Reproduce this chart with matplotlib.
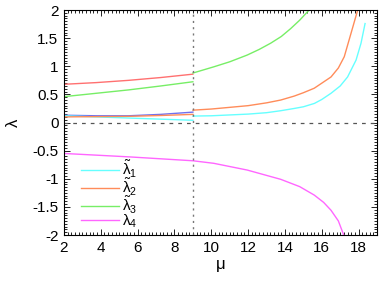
import matplotlib
matplotlib.use('Agg')
import matplotlib.pyplot as plt
from matplotlib.ticker import MultipleLocator

plt.rcParams['font.family'] = ['Liberation Sans', 'DejaVu Sans']
plt.rcParams['mathtext.fontset'] = 'custom'
plt.rcParams['mathtext.rm'] = 'Liberation Sans'
plt.rcParams['mathtext.it'] = 'Liberation Sans'

# left branches (mu < 9)
mu_left = [2, 3.75, 5.5, 7.25, 9]
cyan_left = [0.12, 0.10, 0.08, 0.06, 0.04]
orange_left = [0.10, 0.105, 0.11, 0.125, 0.145]
blue_left = [0.13, 0.12, 0.12, 0.145, 0.185]
green_left = [0.46, 0.52, 0.58, 0.65, 0.725]
red_left = [0.68, 0.71, 0.75, 0.80, 0.86]

# right branches (mu > 9)
mu_cyan = [9, 10, 11, 12, 13, 13.77, 14.5, 15.0, 15.6, 16.0, 16.5, 17.0, 17.4, 17.86, 18.13, 18.35]
cyan_right = [0.115, 0.12, 0.135, 0.15, 0.175, 0.21, 0.25, 0.28, 0.34, 0.41, 0.52, 0.65, 0.81, 1.11, 1.41, 1.76]
mu_orange = [9, 10, 11, 12, 13, 13.77, 14.5, 15.0, 15.59, 16.0, 16.5, 16.9, 17.22, 17.59, 17.95]
orange_right = [0.22, 0.24, 0.27, 0.30, 0.35, 0.40, 0.47, 0.53, 0.61, 0.70, 0.81, 0.97, 1.17, 1.59, 2.0]
mu_green = [9, 10.13, 11, 11.95, 12.6, 13.22, 13.8, 14.31, 14.8, 15.31]
green_right = [0.88, 0.99, 1.08, 1.2, 1.3, 1.41, 1.53, 1.67, 1.82, 2.0]

mu_mag = [2, 5.5, 9, 10.13, 11.95, 13.77, 14.8, 15.59, 16.1, 16.5, 16.9, 17.19]
mag = [-0.55, -0.61, -0.68, -0.725, -0.845, -1.01, -1.14, -1.29, -1.42, -1.56, -1.75, -2.0]

c_cyan = '#66ffff'
c_orange = '#ff8c5a'
c_green = '#77ee66'
c_mag = '#ff66ff'
c_red = '#ff7070'
c_blue = '#7070ee'

fig = plt.figure(figsize=(3.82, 2.81), dpi=100)
ax = fig.add_axes([0.1675, 0.1637, 0.8195, 0.8005])

lw = 1.0
ax.plot(mu_left, red_left, color=c_red, lw=lw)
ax.plot(mu_left, blue_left, color=c_blue, lw=lw)
ax.plot(mu_left, cyan_left, color=c_cyan, lw=lw)
ax.plot(mu_left, orange_left, color=c_orange, lw=lw)
ax.plot(mu_left, green_left, color=c_green, lw=lw)

ax.plot(mu_cyan, cyan_right, color=c_cyan, lw=lw, label=r'$\tilde{\lambda}_1$')
ax.plot(mu_orange, orange_right, color=c_orange, lw=lw, label=r'$\tilde{\lambda}_2$')
ax.plot(mu_green, green_right, color=c_green, lw=lw, label=r'$\tilde{\lambda}_3$')
ax.plot(mu_mag, mag, color=c_mag, lw=lw, label=r'$\lambda_4$')

ax.axhline(0, color='#555555', lw=0.9, ls=(0, (3, 4)))
ax.axvline(9, color='#777777', lw=1.0, ls=(0, (1.5, 3)))

ax.set_xlim(2, 19)
ax.set_ylim(-2, 2)
ax.xaxis.set_major_locator(MultipleLocator(2))
ax.xaxis.set_minor_locator(MultipleLocator(0.2))
ax.yaxis.set_major_locator(MultipleLocator(0.5))
ax.yaxis.set_minor_locator(MultipleLocator(0.05))
ax.set_yticks([-2, -1.5, -1, -0.5, 0, 0.5, 1, 1.5, 2])
ax.set_yticklabels(['-2', '-1.5', '-1', '-0.5', '0', '0.5', '1', '1.5', '2'])
ax.tick_params(which='both', direction='in', top=True, right=True, labelsize=11, width=0.6)
ax.tick_params(which='major', length=4.5, pad=4)
ax.tick_params(which='minor', length=2.2)
for s in ax.spines.values():
    s.set_linewidth(0.8)

ax.set_xlabel('μ', fontsize=12, labelpad=2)
ax.set_ylabel('λ', fontsize=12, labelpad=8)

ax.legend(loc='lower left', bbox_to_anchor=(0.02, -0.025), frameon=False, fontsize=11,
          handlelength=2.5, labelspacing=-0.22, handletextpad=0.2, borderpad=0.2)

fig.savefig('out.png', dpi=100)
